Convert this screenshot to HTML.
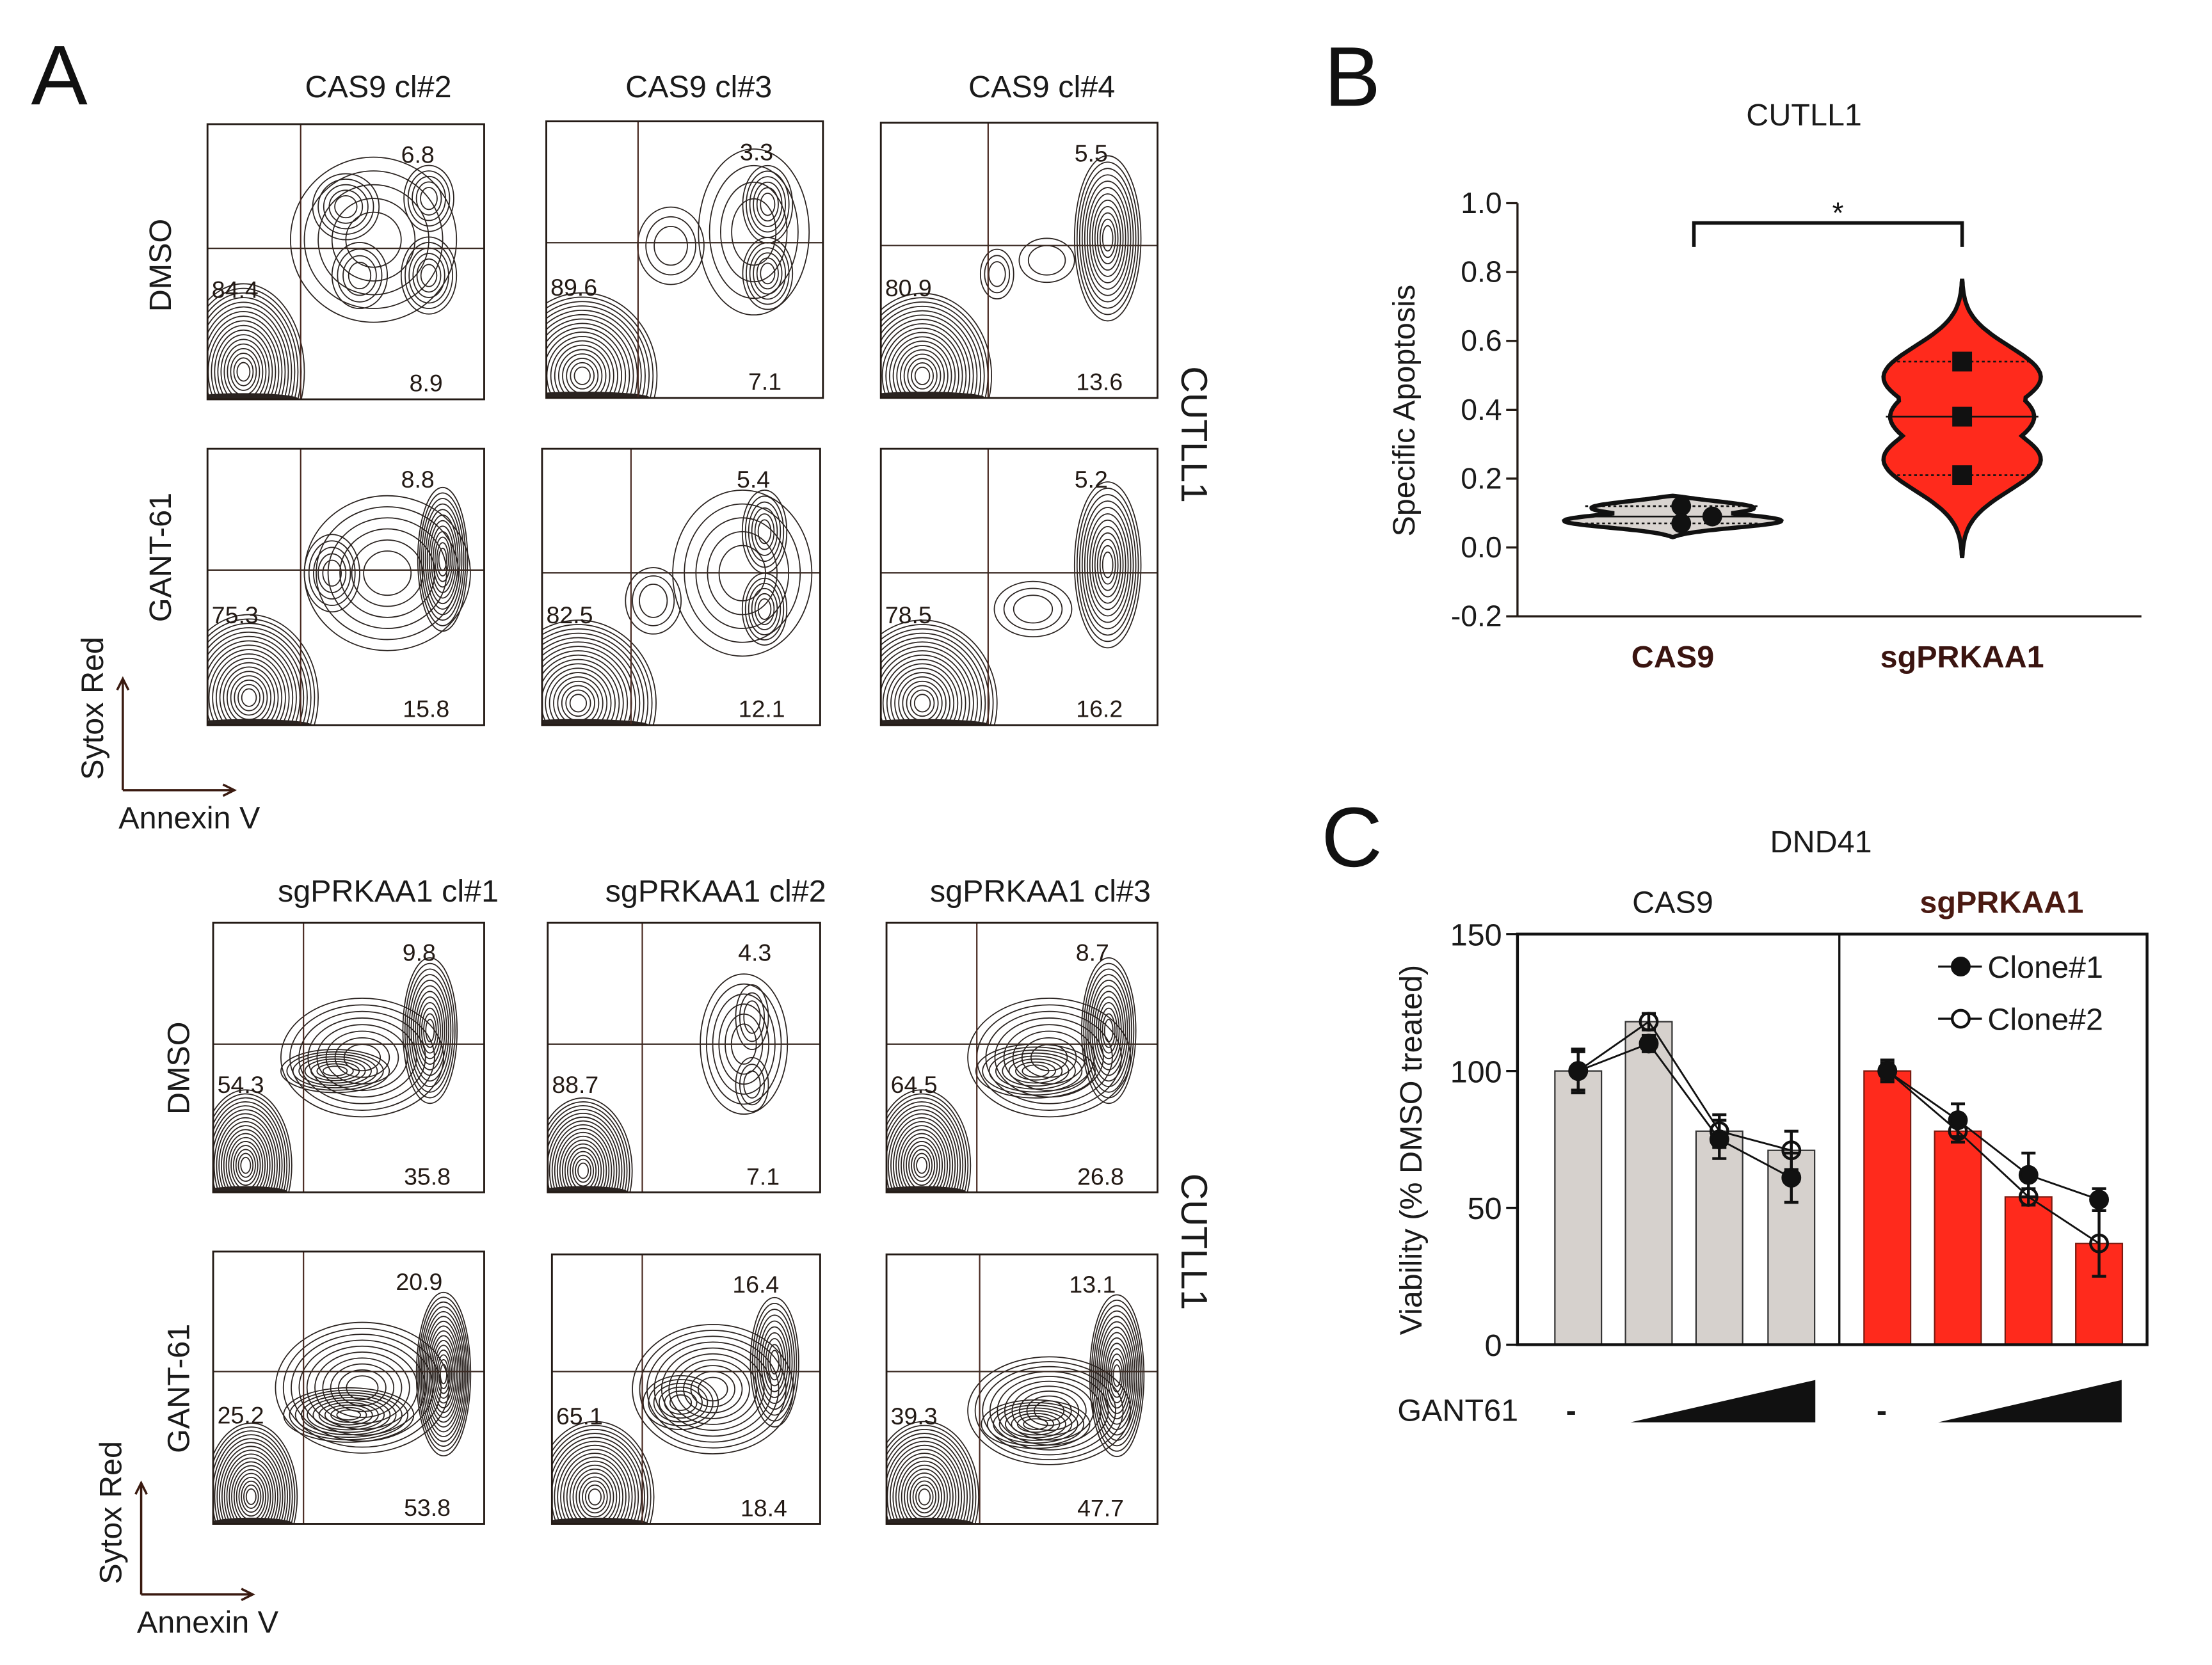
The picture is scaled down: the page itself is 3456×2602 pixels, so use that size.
<!DOCTYPE html>
<html><head><meta charset="utf-8">
<style>
html,body{margin:0;padding:0;background:#fff;}
svg{display:block;}
text{font-family:"Liberation Sans",sans-serif;}
</style></head>
<body>
<svg id="fig" xmlns="http://www.w3.org/2000/svg" width="3456" height="2602" viewBox="0 0 1567 1180" preserveAspectRatio="none">
<rect x="0" y="0" width="1567" height="1180" fill="#fff"/>
<g id="panelA"></g>
<g id="panelB"></g>
<g id="panelC"></g>
</svg>
<script>
// ---------- Panel A data ----------
const flowTitlesTop = ["CAS9 cl#2","CAS9 cl#3","CAS9 cl#4"];
const flowTitlesBottom = ["sgPRKAA1 cl#1","sgPRKAA1 cl#2","sgPRKAA1 cl#3"];
const flowUR = [6.8,3.3,5.5, 8.8,5.4,5.2, 9.8,4.3,8.7, 20.9,16.4,13.1];
const flowLL = [84.4,89.6,80.9, 75.3,82.5,78.5, 54.3,88.7,64.5, 25.2,65.1,39.3];
const flowLR = [8.9,7.1,13.6, 15.8,12.1,16.2, 35.8,7.1,26.8, 53.8,18.4,47.7];

// ---------- Panel B data ----------
const violinCats = ["CAS9","sgPRKAA1"];
const cas9Points = [0.12,0.07,0.09];
const sgPoints = [0.54,0.38,0.21];
const violinRange = [[0.03,0.15],[-0.03,0.78]];
const violinMedian = [0.09,0.38];
const violinQuart = [[0.07,0.12],[0.21,0.54]];
const bTicks = [-0.2,0,0.2,0.4,0.6,0.8,1.0];
const bTickLabels = ["-0.2","0.0","0.2","0.4","0.6","0.8","1.0"];

// ---------- Panel C data ----------
const cGroups = ["CAS9","sgPRKAA1"];
const cas9Bars = [100,118,78,71];
const sgBars = [100,78,54,37];
const cas9Clone1 = [100,110,75,61];
const cas9Clone1Err = [8,3,7,9];
const cas9Clone2 = [100,118,78,71];
const cas9Clone2Err = [7,3,6,7];
const sgClone1 = [100,82,62,53];
const sgClone1Err = [4,6,8,4];
const sgClone2 = [100,78,54,37];
const sgClone2Err = [3,4,3,12];
const cTicks = [0,50,100,150];

const NS="http://www.w3.org/2000/svg";
function mk(parent,tag,attrs,txt){
  const e=document.createElementNS(NS,tag);
  for(const k in attrs) e.setAttribute(k,attrs[k]);
  if(txt!==undefined) e.textContent=txt;
  parent.appendChild(e);return e;
}
const A=document.getElementById('panelA');
const B=document.getElementById('panelB');
const C=document.getElementById('panelC');
const dark="#231a15";

// ================= PANEL A =================
let t;
t=mk(A,'text',{x:22,y:74,'font-size':60,fill:'#111'},'A');


const boxes=[
 [147,88,196,195],[387,86,196,196],[624,87,196,195],
 [147,318,196,196],[384,318,197,196],[624,318,196,196],
 [151,654,192,191],[388,654,193,191],[628,654,192,191],
 [151,887,192,193],[391,889,190,191],[628,889,192,191]];
const qv=[213,452,700,213,447,700,215,455,692,215,455,694];
const qh=[176,172,174,404,406,406,740,740,740,972,972,972];
const clusters=[
 [[0.6,0.42,0.3,0.3,5],[0.5,0.3,0.12,0.12,5],[0.8,0.27,0.09,0.12,5],[0.8,0.55,0.1,0.14,6],[0.55,0.55,0.1,0.12,4]],
 [[0.75,0.4,0.2,0.3,4],[0.8,0.3,0.09,0.14,6],[0.8,0.55,0.09,0.13,6],[0.45,0.45,0.12,0.14,3]],
 [[0.82,0.42,0.12,0.3,12],[0.42,0.55,0.06,0.09,3],[0.6,0.5,0.1,0.08,2]],
 [[0.65,0.45,0.3,0.28,6],[0.45,0.45,0.1,0.14,5],[0.85,0.4,0.09,0.26,12]],
 [[0.72,0.45,0.25,0.3,5],[0.8,0.3,0.08,0.15,6],[0.8,0.58,0.08,0.13,6],[0.4,0.55,0.1,0.12,3]],
 [[0.82,0.42,0.12,0.3,12],[0.55,0.58,0.14,0.1,3]],
 [[0.55,0.5,0.3,0.22,8],[0.45,0.55,0.2,0.08,8],[0.8,0.4,0.1,0.27,12]],
 [[0.72,0.45,0.16,0.26,6],[0.75,0.35,0.06,0.12,3],[0.75,0.6,0.06,0.1,3]],
 [[0.6,0.5,0.3,0.22,8],[0.55,0.55,0.22,0.1,8],[0.82,0.4,0.1,0.27,12]],
 [[0.55,0.5,0.32,0.24,10],[0.5,0.6,0.24,0.1,10],[0.85,0.45,0.1,0.3,16]],
 [[0.6,0.5,0.3,0.24,10],[0.48,0.55,0.14,0.1,6],[0.83,0.4,0.09,0.24,10]],
 [[0.6,0.58,0.3,0.2,10],[0.55,0.63,0.2,0.09,8],[0.85,0.45,0.1,0.3,14]]];
const blobs=[[0.13,0.9,0.22,0.32],[0.13,0.92,0.27,0.3],[0.15,0.92,0.25,0.3],
 [0.15,0.9,0.25,0.3],[0.13,0.92,0.28,0.3],[0.15,0.92,0.27,0.3],
 [0.12,0.9,0.17,0.28],[0.13,0.92,0.18,0.27],[0.13,0.9,0.18,0.28],
 [0.14,0.9,0.17,0.27],[0.16,0.9,0.22,0.28],[0.14,0.9,0.2,0.28]];

mk(A,'defs',{}).innerHTML=boxes.map((b,i)=>`<clipPath id="cp${i}"><rect x="${b[0]}" y="${b[1]}" width="${b[2]}" height="${b[3]}"/></clipPath>`).join('');

boxes.forEach((b,i)=>{
  const [x,y,w,h]=b;
  const g=mk(A,'g',{});
  
  
  const cg=mk(g,'g',{'clip-path':`url(#cp${i})`,fill:'none',stroke:'#2a2320','stroke-width':0.8});
  const bl=blobs[i];
  for(let k=0;k<18;k++){
    const f=1-k/19;
    mk(cg,'ellipse',{cx:x+bl[0]*w,cy:y+bl[1]*h,rx:bl[2]*w*f,ry:bl[3]*h*f});
  }
  mk(cg,'ellipse',{cx:x+bl[0]*w,cy:y+h,rx:bl[2]*w*0.9,ry:4,fill:'#2a2320'});
  clusters[i].forEach(c=>{
    for(let k=0;k<c[4];k++){
      const f=1-k/(c[4]+1);
      mk(cg,'ellipse',{cx:x+c[0]*w,cy:y+c[1]*h,rx:c[2]*w*f,ry:c[3]*h*f});
    }
  });
  mk(g,'line',{x1:qv[i],y1:y,x2:qv[i],y2:y+h,stroke:'#4a2a22','stroke-width':1});
  mk(g,'line',{x1:x,y1:qh[i],x2:x+w,y2:qh[i],stroke:'#3a2a22','stroke-width':1});
  mk(g,'rect',{x,y,width:w,height:h,fill:'none',stroke:dark,'stroke-width':1.3});
  t=mk(g,'text',{x:x+0.76*w,y:y+0.11*h+6,'font-size':17,'text-anchor':'middle',fill:dark},flowUR[i].toFixed(1));
  
  t=mk(g,'text',{x:x+3,y:y+0.6*h+6,'font-size':17,fill:dark},flowLL[i].toFixed(1));
  
  t=mk(g,'text',{x:x+0.79*w,y:y+0.94*h+6,'font-size':17,'text-anchor':'middle',fill:dark},flowLR[i].toFixed(1));
  
});
const titleX=[268,495,738],titleX2=[275,507,737];
flowTitlesTop.forEach((s,i)=>{t=mk(A,'text',{x:titleX[i],y:69,'font-size':22,'text-anchor':'middle',fill:'#1a1a1a'},s);
  });
flowTitlesBottom.forEach((s,i)=>{t=mk(A,'text',{x:titleX2[i],y:639,'font-size':22,'text-anchor':'middle',fill:'#1a1a1a'},s);
  });
[["DMSO",121,188],["GANT-61",121,395],["DMSO",134,757],["GANT-61",134,984]].forEach(r=>{
  t=mk(A,'text',{x:r[1],y:r[2],'font-size':22,'text-anchor':'middle',fill:'#1a1a1a',transform:`rotate(-90 ${r[1]} ${r[2]})`},r[0]);
  });
[[837,308],[837,880]].forEach(p=>{
  t=mk(A,'text',{x:p[0],y:p[1],'font-size':26,'text-anchor':'middle',fill:'#1a1a1a',transform:`rotate(90 ${p[0]} ${p[1]})`},'CUTLL1');
  });
[[87,560],[100,1130]].forEach(p=>{
  const [ax,ay]=p;
  const g=mk(A,'g',{stroke:'#3a1a10','stroke-width':1.6,fill:'none'});
  
  mk(g,'line',{x1:ax,y1:ay,x2:ax,y2:ay-78});
  mk(g,'polyline',{points:`${ax-4},${ay-71} ${ax},${ay-79} ${ax+4},${ay-71}`});
  mk(g,'line',{x1:ax,y1:ay,x2:ax+78,y2:ay});
  mk(g,'polyline',{points:`${ax+71},${ay-4} ${ax+79},${ay} ${ax+71},${ay+4}`});
  t=mk(A,'text',{x:ax-14,y:ay-58,'font-size':22,'text-anchor':'middle',fill:'#1a1a1a',transform:`rotate(-90 ${ax-14} ${ay-58})`},'Sytox Red');
  
  t=mk(A,'text',{x:ax-3,y:ay+27,'font-size':22,fill:'#1a1a1a'},'Annexin V');
  
});

// ================= PANEL B =================
t=mk(B,'text',{x:938,y:75,'font-size':60,fill:'#111'},'B');

t=mk(B,'text',{x:1278,y:89,'font-size':22,'text-anchor':'middle',fill:'#1a1a1a'},'CUTLL1');

const bx0=1075,bx1=1517;
const by=v=>388-(v/0.2)*48.8;
const bcx=[1185,1390];
mk(B,'line',{x1:bx0,y1:by(1.0),x2:bx0,y2:by(-0.2),stroke:dark,'stroke-width':1.5});
mk(B,'line',{x1:bx0,y1:by(-0.2),x2:bx1,y2:by(-0.2),stroke:dark,'stroke-width':1.5});
bTicks.forEach((v,i)=>{
  mk(B,'line',{x1:bx0-8,y1:by(v),x2:bx0,y2:by(v),stroke:dark,'stroke-width':1.5});
  t=mk(B,'text',{x:bx0-11,y:by(v)+7,'font-size':21,'text-anchor':'end',fill:'#1a1a1a'},bTickLabels[i]);
  
});
t=mk(B,'text',{x:1002,y:291,'font-size':22,'text-anchor':'middle',fill:'#1a1a1a',transform:'rotate(-90 1002 291)'},'Specific Apoptosis');

violinCats.forEach((s,i)=>{
  t=mk(B,'text',{x:bcx[i],y:473,'font-size':22,'font-weight':'bold','text-anchor':'middle',fill:'#3a1410'},s);
  
});
function gauss(v,m,s){return Math.exp(-Math.pow((v-m)/s,2));}
function violinPath(cx,lo,hi,wid,peaks,sig,pinch){
  const n=80,pts=[];
  for(let k=0;k<=n;k++){
    const u=k/n, v=lo+(hi-lo)*u;
    let m=0;peaks.forEach(p=>{m=Math.max(m,p[1]*gauss(v,p[0],sig));});
    const w=Math.min(1,m)*wid*Math.pow(Math.sin(Math.PI*u),pinch);
    pts.push([cx+w,by(v)]);
  }
  const left=pts.slice().reverse().map(p=>[2*cx-p[0],p[1]]);
  return 'M'+pts.concat(left).map(p=>p[0].toFixed(1)+','+p[1].toFixed(1)).join(' L')+'Z';
}
let vp=mk(B,'path',{d:violinPath(bcx[0],violinRange[0][0],violinRange[0][1],80,[[0.075,1],[0.12,0.85]],0.03,0.6),fill:'#d9d4d0',stroke:'#111','stroke-width':3});

vp=mk(B,'path',{d:violinPath(bcx[1],violinRange[1][0],violinRange[1][1],58,[[0.5,1],[0.25,1],[0.38,0.88]],0.13,0.35),fill:'#ff2a1c',stroke:'#111','stroke-width':3});

[[0,66],[1,54]].forEach(([i,hw])=>{
  mk(B,'line',{x1:bcx[i]-hw,y1:by(violinMedian[i]),x2:bcx[i]+hw,y2:by(violinMedian[i]),stroke:'#111','stroke-width':1.2});
  violinQuart[i].forEach(q=>mk(B,'line',{x1:bcx[i]-hw+4,y1:by(q),x2:bcx[i]+hw-4,y2:by(q),stroke:'#111','stroke-width':1.2,'stroke-dasharray':'2,2'}));
});
const cas9Dx=[6,6,28];
cas9Points.forEach((v,i)=>{const c=mk(B,'circle',{cx:bcx[0]+cas9Dx[i],cy:by(v),r:7,fill:'#111'});
  });
sgPoints.forEach(v=>{const r=mk(B,'rect',{x:bcx[1]-7,y:by(v)-7,width:14,height:14,fill:'#111'});
  });
const br=mk(B,'polyline',{points:`1200,175 1200,158 1390,158 1390,175`,fill:'none',stroke:'#111','stroke-width':2.5});

t=mk(B,'text',{x:1302,y:158,'font-size':21,'text-anchor':'middle',fill:'#111'},'*');


// ================= PANEL C =================
t=mk(C,'text',{x:936,y:614,'font-size':60,fill:'#111'},'C');

t=mk(C,'text',{x:1290,y:604,'font-size':22,'text-anchor':'middle',fill:'#1a1a1a'},'DND41');

const cx0=1075,cx1=1521,cdiv=1303;
const cy=v=>953-v*(291/150);
const cas9X=[1118,1168,1218,1269], sgX=[1337,1387,1437,1487], bw=33;
cas9Bars.forEach((v,i)=>{const r=mk(C,'rect',{x:cas9X[i]-bw/2,y:cy(v),width:bw,height:cy(0)-cy(v),fill:'#d6d1cd',stroke:'#333','stroke-width':1});
  });
sgBars.forEach((v,i)=>{const r=mk(C,'rect',{x:sgX[i]-bw/2,y:cy(v),width:bw,height:cy(0)-cy(v),fill:'#ff2a1c',stroke:'#7a1a10','stroke-width':1});
  });
mk(C,'rect',{x:cx0,y:cy(150),width:cx1-cx0,height:cy(0)-cy(150),fill:'none',stroke:'#111','stroke-width':2});
mk(C,'line',{x1:cdiv,y1:cy(150),x2:cdiv,y2:cy(0),stroke:'#111','stroke-width':1.5});
cTicks.forEach(v=>{
  mk(C,'line',{x1:cx0-8,y1:cy(v),x2:cx0,y2:cy(v),stroke:'#111','stroke-width':1.5});
  t=mk(C,'text',{x:cx0-11,y:cy(v)+8,'font-size':22,'text-anchor':'end',fill:'#1a1a1a'},String(v));
  
});
t=mk(C,'text',{x:1007,y:815,'font-size':22,'text-anchor':'middle',fill:'#1a1a1a',transform:'rotate(-90 1007 815)'},'Viability (% DMSO treated)');

t=mk(C,'text',{x:1185,y:647,'font-size':22,'text-anchor':'middle',fill:'#1a1a1a'},cGroups[0]);

t=mk(C,'text',{x:1418,y:647,'font-size':22,'font-weight':'bold','text-anchor':'middle',fill:'#4a1a12'},cGroups[1]);

function series(xs,vals,errs,filled,name){
  const g=mk(C,'g',{});
  
  mk(g,'polyline',{points:xs.map((x,i)=>x+','+cy(vals[i])).join(' '),fill:'none',stroke:'#111','stroke-width':1.3});
  xs.forEach((x,i)=>{
    const v=vals[i],e=errs[i];
    mk(g,'line',{x1:x,y1:cy(v+e),x2:x,y2:cy(v-e),stroke:'#111','stroke-width':2});
    mk(g,'line',{x1:x-5,y1:cy(v+e),x2:x+5,y2:cy(v+e),stroke:'#111','stroke-width':2});
    mk(g,'line',{x1:x-5,y1:cy(v-e),x2:x+5,y2:cy(v-e),stroke:'#111','stroke-width':2});
    mk(g,'circle',{cx:x,cy:cy(v),r:6,fill:filled?'#111':'none',stroke:'#111','stroke-width':2});
  });
}
series(cas9X,cas9Clone2,cas9Clone2Err,false,'cas9-clone2');
series(cas9X,cas9Clone1,cas9Clone1Err,true,'cas9-clone1');
series(sgX,sgClone2,sgClone2Err,false,'sgprkaa1-clone2');
series(sgX,sgClone1,sgClone1Err,true,'sgprkaa1-clone1');
[[685,true,'Clone#1'],[722,false,'Clone#2']].forEach(([y,f,s])=>{
  const g=mk(C,'g',{});
  
  mk(g,'line',{x1:1373,y1:y,x2:1404,y2:y,stroke:'#111','stroke-width':1.5});
  mk(g,'circle',{cx:1389,cy:y,r:6,fill:f?'#111':'#fff',stroke:'#111','stroke-width':2});
  mk(g,'text',{x:1408,y:y+8,'font-size':22,fill:'#1a1a1a'},s);
});
t=mk(C,'text',{x:990,y:1007,'font-size':22,fill:'#1a1a1a'},'GANT61');

[[1113,1155,1286],[1333,1373,1503]].forEach(([d,a,b])=>{
  t=mk(C,'text',{x:d,y:1007,'font-size':22,'font-weight':'bold','text-anchor':'middle',fill:'#1a1a1a'},'-');
  
  const p=mk(C,'polygon',{points:`${a},1008 ${b},1008 ${b},978`,fill:'#111'});
  
});
</script>
</body></html>
